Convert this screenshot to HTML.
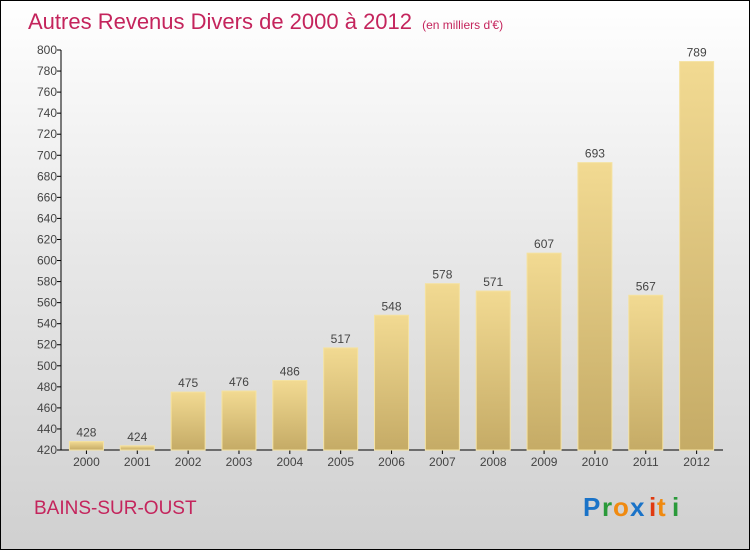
<!DOCTYPE html>
<html><head><meta charset="utf-8"><style>
html,body{margin:0;padding:0}
body{width:750px;height:550px;overflow:hidden;font-family:"Liberation Sans",sans-serif}
#wrap{position:absolute;left:0;top:0;width:748px;height:548px;border:1px solid #000;background:linear-gradient(#fff 0%,#e8e8e8 45%,#d0d0d0 100%)}
</style></head><body>
<div id="wrap">
<svg width="748" height="548" viewBox="1 1 748 548" style="position:absolute;left:0;top:0">
<defs><linearGradient id="bg" x1="0" y1="0" x2="0" y2="1"><stop offset="0" stop-color="#f2da92"/><stop offset="1" stop-color="#c5ab66"/></linearGradient></defs>
<text x="28" y="29" font-size="22" fill="#c4245c">Autres Revenus Divers de 2000 à 2012 <tspan font-size="12" dx="4">(en milliers d'€)</tspan></text>
<g id="axes"></g><g id="bars"></g>
<text x="34" y="514" font-size="19" fill="#c4245c">BAINS-SUR-OUST</text>
<g font-size="26" font-weight="bold" font-family="Liberation Sans,sans-serif">
<text x="583" y="516" fill="#1a73c8">P</text><text x="602" y="516" fill="#2a9a3a">r</text><text x="613" y="516" fill="#f08a10">o</text><text x="630" y="516" fill="#1a73c8">x</text><text x="649" y="516" fill="#e03a10">i</text><text x="657" y="516" fill="#f08a10">t</text><text x="672" y="516" fill="#2a9a3a">i</text></g>
</svg></div>
<script>
const categories=["2000","2001","2002","2003","2004","2005","2006","2007","2008","2009","2010","2011","2012"];
const values=[428,424,475,476,486,517,548,578,571,607,693,567,789];
const yTicks=[420,440,460,480,500,520,540,560,580,600,620,640,660,680,700,720,740,760,780,800];
const NS="http://www.w3.org/2000/svg";
const y0=450,y1=50,vmin=420,vmax=800,xl=61,band=50.85;
const Y=v=>y0-(v-vmin)/(vmax-vmin)*(y0-y1);
const X=i=>xl+band*(i+0.5);
function mk(t,a,p){const e=document.createElementNS(NS,t);for(const k in a)e.setAttribute(k,a[k]);p.appendChild(e);return e;}
const ax=document.getElementById('axes'),bs=document.getElementById('bars');
const yl=mk('line',{x1:xl,x2:xl,y1:y1,y2:y0,stroke:'#000'},ax);


const xla=mk('line',{x1:xl,x2:723,y1:y0,y2:y0,stroke:'#000'},ax);


yTicks.forEach(v=>{mk('line',{x1:xl-4,x2:xl,y1:Y(v),y2:Y(v),stroke:'#000'},ax);
const t=mk('text',{x:xl-4,y:Y(v)+4,'text-anchor':'end','font-size':12,fill:'#444'},ax);t.textContent=v;

});
categories.forEach((c,i)=>{const x=X(i);
mk('line',{x1:x,x2:x,y1:y0,y2:y0+4,stroke:'#000'},ax);
const t=mk('text',{x:x,y:466,'text-anchor':'middle','font-size':12,fill:'#444'},ax);t.textContent=c;


const v=values[i];const r=mk('rect',{x:x-17,y:Y(v),width:34,height:y0-Y(v),fill:'url(#bg)',stroke:'#f5e2a0','stroke-width':1},bs);


const l=mk('text',{x:x,y:Y(v)-5,'text-anchor':'middle','font-size':12,fill:'#444'},bs);l.textContent=v;

});
</script>
</body></html>
